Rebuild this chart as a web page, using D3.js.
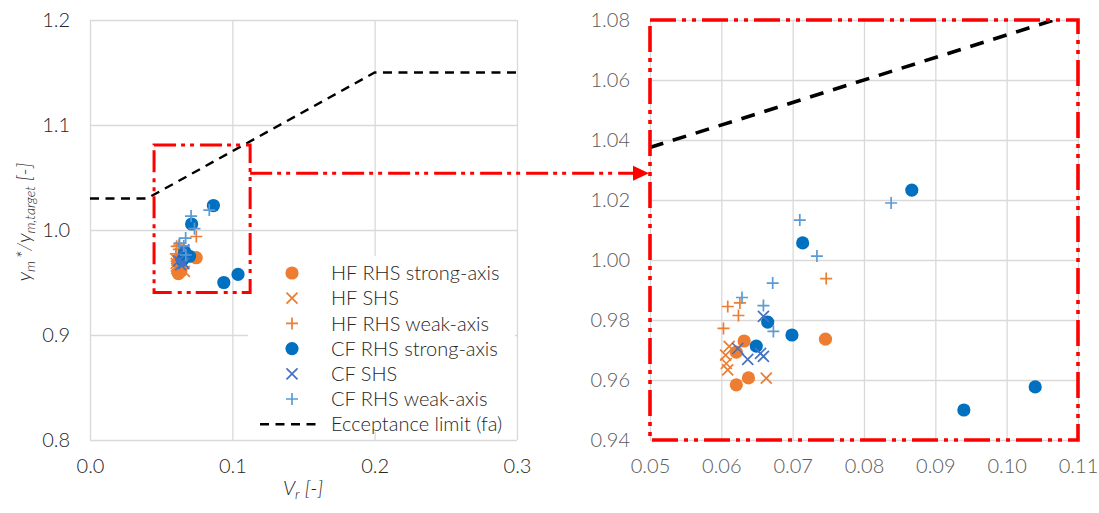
<!DOCTYPE html>
<html>
<head>
<meta charset="utf-8">
<script src="https://cdn.jsdelivr.net/npm/d3@7"></script>
<style>
  html, body { margin: 0; padding: 0; background: #fff; }
  svg { display: block; font-family: Lato, "Open Sans", sans-serif; font-weight: 300; }
</style>
</head>
<body>
<svg id="chart" width="1099" height="513"></svg>
<script>
// ---- data -------------------------------------------------------------
const seriesNames = [
  "HF RHS strong-axis", "HF SHS", "HF RHS weak-axis",
  "CF RHS strong-axis", "CF SHS", "CF RHS weak-axis"
];
// [V_r, y_m*/y_m,target]
const hfRhsStrong = [[0.0632, 0.9730], [0.0621, 0.9693], [0.0638, 0.9607], [0.0621, 0.9584], [0.0746, 0.9736]];
const hfShs       = [[0.0611, 0.9712], [0.0606, 0.9683], [0.0607, 0.9655], [0.0609, 0.9634], [0.0663, 0.9606]];
const hfRhsWeak   = [[0.0603, 0.9772], [0.0609, 0.9845], [0.0626, 0.9857], [0.0624, 0.9815], [0.0747, 0.9938]];
const cfRhsStrong = [[0.0867, 1.0233], [0.0714, 1.0057], [0.0665, 0.9793], [0.0699, 0.9750], [0.0649, 0.9713], [0.0940, 0.9500], [0.1040, 0.9577]];
const cfShs       = [[0.0659, 0.9812], [0.0623, 0.9705], [0.0637, 0.9669], [0.0655, 0.9689], [0.0659, 0.9679]];
const cfRhsWeak   = [[0.0838, 1.0190], [0.0710, 1.0133], [0.0734, 1.0013], [0.0672, 0.9923], [0.0629, 0.9875], [0.0659, 0.9848], [0.0673, 0.9762]];

// acceptance limit (fa)
const limitName = "Ecceptance limit (fa)";
const limitX = [0, 0.04, 0.2, 0.3];
const limitY = [1.03, 1.03, 1.15, 1.15];

// overview axes
const leftXTicks = [0, 0.1, 0.2, 0.3];
const leftYTicks = [0.8, 0.9, 1.0, 1.1, 1.2];
// detail axes
const rightXTicks = [0.05, 0.06, 0.07, 0.08, 0.09, 0.10, 0.11];
const rightYTicks = [0.94, 0.96, 0.98, 1.00, 1.02, 1.04, 1.06, 1.08];

// region of the overview that the detail panel enlarges
const zoomBoxX = [0.045, 0.1125];
const zoomBoxY = [0.9405, 1.081];
const connectorY = 1.054;

// ---- drawing ----------------------------------------------------------
const svg = d3.select("#chart");
const series = [hfRhsStrong, hfShs, hfRhsWeak, cfRhsStrong, cfShs, cfRhsWeak];
const colors = ["#ED7D31", "#ED7D31", "#ED7D31", "#0070C0", "#4472C4", "#5B9BD5"];
const shapes = ["circle", "x", "plus", "circle", "x", "plus"];
const grid = "#d9d9d9";
const red = "#FF0000";
const textSize = "20px";

function marker(g, shape, color) {
  if (shape === "circle") {
    g.append("circle").attr("r", 6.6).attr("fill", color);
  } else if (shape === "x") {
    g.append("path").attr("d", "M-5.5,-5.5L5.5,5.5M-5.5,5.5L5.5,-5.5")
      .attr("stroke", color).attr("stroke-width", 1.7).attr("fill", "none");
  } else {
    g.append("path").attr("d", "M-6,0H6M0,-6V6")
      .attr("stroke", color).attr("stroke-width", 1.7).attr("fill", "none");
  }
}

function panel(x, y, xTicks, yTicks, xFmt, yFmt, labelColor, id) {
  const [x0, x1] = x.range();
  const [y0, y1] = y.range();
  const g = svg.append("g");

  const gx = g.append("g").attr("transform", `translate(0,${y0})`)
    .call(d3.axisBottom(x).tickValues(xTicks).tickFormat(d3.format(xFmt))
      .tickSizeInner(-(y0 - y1)).tickSizeOuter(0).tickPadding(19));
  const gy = g.append("g").attr("transform", `translate(${x0},0)`)
    .call(d3.axisLeft(y).tickValues(yTicks).tickFormat(d3.format(yFmt))
      .tickSizeInner(-(x1 - x0)).tickSizeOuter(0).tickPadding(20));
  [gx, gy].forEach(a => {
    a.select(".domain").remove();
    a.selectAll(".tick line").attr("stroke", grid).attr("stroke-width", 1.3);
    a.selectAll(".tick text").attr("fill", labelColor)
      .style("font-size", textSize).style("font-family", "Lato, 'Open Sans', sans-serif")
      .style("font-weight", 300);
  });
  gx.selectAll(".tick text").attr("dy", "0.71em");

  g.append("clipPath").attr("id", id).append("rect")
    .attr("x", x0).attr("y", y1).attr("width", x1 - x0).attr("height", y0 - y1);
  return g;
}

function drawLimit(g, x, y, clipId, width, dash) {
  g.append("path")
    .datum(limitX.map((v, i) => [v, limitY[i]]))
    .attr("clip-path", `url(#${clipId})`)
    .attr("d", d3.line().x(d => x(d[0])).y(d => y(d[1])))
    .attr("fill", "none").attr("stroke", "#000")
    .attr("stroke-width", width).attr("stroke-dasharray", dash);
}

function drawPoints(g, x, y) {
  series.forEach((pts, i) => {
    g.append("g").selectAll("g").data(pts).join("g")
      .attr("transform", d => `translate(${x(d[0])},${y(d[1])})`)
      .each(function () { marker(d3.select(this), shapes[i], colors[i]); });
  });
}

// overview panel
const xL = d3.scaleLinear().domain([0, 0.3]).range([90, 517]);
const yL = d3.scaleLinear().domain([0.8, 1.2]).range([440, 20]);
const left = panel(xL, yL, leftXTicks, leftYTicks, ".1f", ".1f", "#262626", "clipL");

// detail panel
const xR = d3.scaleLinear().domain([0.05, 0.11]).range([650, 1078]);
const yR = d3.scaleLinear().domain([0.94, 1.08]).range([440, 20]);
const right = panel(xR, yR, rightXTicks, rightYTicks, ".2f", ".2f", "#595959", "clipR");

// limit lines
drawLimit(left, xL, yL, "clipL", 2.4, "9,6.5");
drawLimit(right, xR, yR, "clipR", 3.6, "14,10");

// test points
drawPoints(left, xL, yL);
drawPoints(right, xR, yR);

// legend (overlaps the lower right of the overview)
const lg = left.append("g");
lg.append("rect").attr("x", 248).attr("y", 256).attr("width", 267).attr("height", 176).attr("fill", "#fff");
const rowY = i => 273 + i * 25.2;
seriesNames.forEach((name, i) => {
  const m = lg.append("g").attr("transform", `translate(292,${rowY(i)})`);
  marker(m, shapes[i], colors[i]);
  lg.append("text").attr("x", 331).attr("y", rowY(i)).attr("dy", "0.36em")
    .attr("fill", "#262626").style("font-size", textSize).text(name);
});
lg.append("line").attr("x1", 260).attr("x2", 322).attr("y1", rowY(6)).attr("y2", rowY(6))
  .attr("stroke", "#000").attr("stroke-width", 2.4).attr("stroke-dasharray", "9,6.5");
lg.append("text").attr("x", 331).attr("y", rowY(6)).attr("dy", "0.36em")
  .attr("fill", "#262626").style("font-size", textSize).text(limitName);

// axis titles of the overview
const yTitle = svg.append("text")
  .attr("transform", `translate(31,222) rotate(-90)`)
  .attr("text-anchor", "middle").attr("fill", "#262626")
  .style("font-size", textSize).style("font-style", "italic");
yTitle.append("tspan").text("y");
yTitle.append("tspan").attr("dy", 4).style("font-size", "14px").text("m");
yTitle.append("tspan").attr("dy", -4).text("\u2009*/y");
yTitle.append("tspan").attr("dy", 4).style("font-size", "14px").text("m,target");
yTitle.append("tspan").attr("dy", -4).text(" [-]");

const xTitle = svg.append("text")
  .attr("x", 303).attr("y", 495).attr("text-anchor", "middle").attr("fill", "#262626")
  .style("font-size", textSize).style("font-style", "italic");
xTitle.append("tspan").text("V");
xTitle.append("tspan").attr("dy", 4).style("font-size", "14px").text("r");
xTitle.append("tspan").attr("dy", -4).text(" [-]");

// zoom frame on the overview, connector arrow, frame round the detail panel
const redDash = "22,5,4,5,4,6";
svg.append("rect")
  .attr("x", xL(zoomBoxX[0])).attr("y", yL(zoomBoxY[1]))
  .attr("width", xL(zoomBoxX[1]) - xL(zoomBoxX[0]))
  .attr("height", yL(zoomBoxY[0]) - yL(zoomBoxY[1]))
  .attr("fill", "none").attr("stroke", red).attr("stroke-width", 3)
  .attr("stroke-dasharray", redDash);

const cy = yL(connectorY);
const arrowTip = xR.range()[0] - 1;
svg.append("line")
  .attr("x1", xL(zoomBoxX[1])).attr("x2", arrowTip - 14).attr("y1", cy).attr("y2", cy)
  .attr("stroke", red).attr("stroke-width", 3).attr("stroke-dasharray", redDash);
svg.append("path")
  .attr("d", `M${arrowTip},${cy}L${arrowTip - 16},${cy - 7.5}L${arrowTip - 16},${cy + 7.5}Z`)
  .attr("fill", red);

svg.append("rect")
  .attr("x", xR.range()[0]).attr("y", yR.range()[1])
  .attr("width", xR.range()[1] - xR.range()[0])
  .attr("height", yR.range()[0] - yR.range()[1])
  .attr("fill", "none").attr("stroke", red).attr("stroke-width", 3.6)
  .attr("stroke-dasharray", "26,6,4,6,4,6");
</script>
</body>
</html>
